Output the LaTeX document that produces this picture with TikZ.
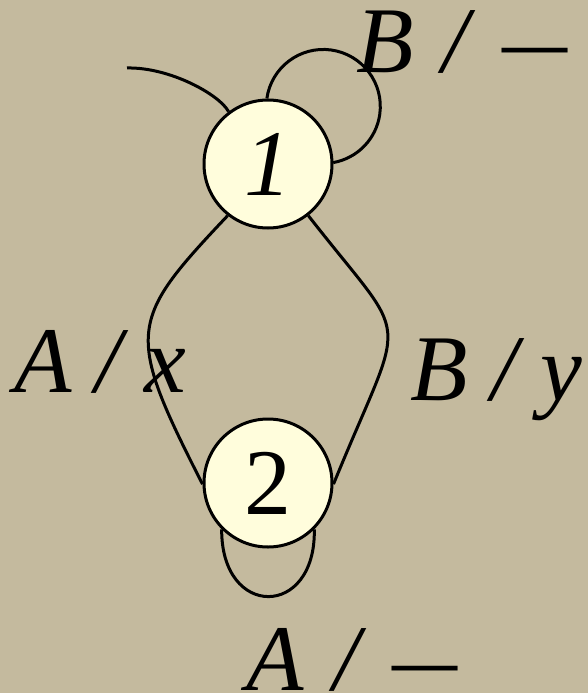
\documentclass[tikz,border=0pt]{standalone}
\usepackage{fontspec}
\setmainfont{Liberation Serif}
\definecolor{bg}{RGB}{196,186,158}
\definecolor{statefill}{RGB}{255,253,220}
\newcommand{\shortdash}{\scalebox{0.78}[1]{—}}
\begin{document}
\begin{tikzpicture}[x=1pt,y=-1pt,
  state/.style={circle,draw=black,line width=3pt,fill=statefill,minimum size=128pt,inner sep=0pt,font=\fontsize{94}{94}\selectfont},
  edgeline/.style={line width=3pt,draw=black},
  lbl/.style={anchor=base west,inner sep=2pt,font=\fontsize{94}{94}\selectfont\itshape}]
\fill[bg] (0,0) rectangle (588,693);
\useasboundingbox (0,0) rectangle (588,693);
\node[state] (n1) at (268,164) {\itshape 1};
\node[state] (n2) at (268,483) {2};
\coordinate (init) at (127,68);
% initial arrow
\draw[edgeline] (init) .. controls (170,67) and (220,95) .. (n1.127);
% self loop on 1
\draw[edgeline] (n1.91) arc[start angle=188,end angle=440,radius=57];
% 1 -> 2 left
\draw[edgeline] (n1.232) .. controls (128,321) and (125,332) .. (n2.181);
% 2 -> 1 right
\draw[edgeline] (n1.308) .. controls (413,350) and (407,304) .. (n2.359);
% self loop on 2
\draw[edgeline] (n2.225) .. controls (221,619) and (316,619) .. (n2.315);
% labels
\node[lbl] (l1) at (354,72) {B\kern5pt{} /\kern11pt{} \shortdash};
\node[lbl] (l2) at (12,392) {A / x};
\node[lbl] (l3) at (408,400) {B / y};
\node[lbl] (l4) at (244,690) {A\kern6pt{} /\kern10pt{} \shortdash};
\end{tikzpicture}
\end{document}
